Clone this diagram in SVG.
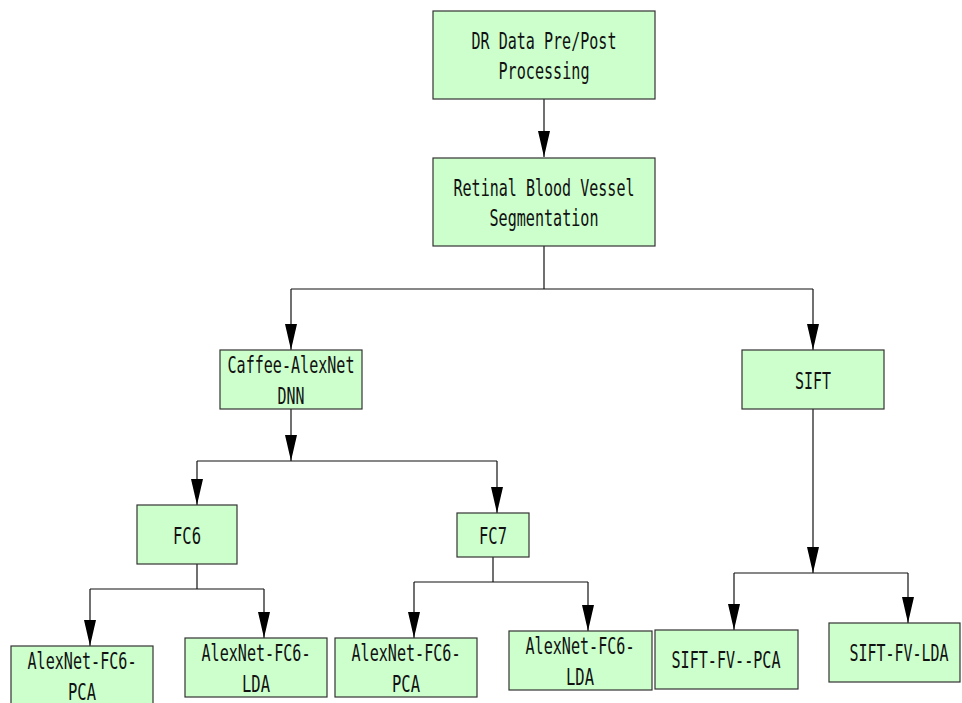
<svg xmlns="http://www.w3.org/2000/svg" width="962" height="703" viewBox="0 0 962 703">
<style>
.box{fill:#ccffcc;stroke:#333;stroke-width:1.2}
.t{font-family:"DejaVu Sans Mono","Liberation Mono",monospace;font-size:23px;fill:#111;text-anchor:middle}
.c{fill:none;stroke:#111;stroke-width:1.2}
</style>
<defs>
<marker id="a" viewBox="0 0 26 12" refX="26" refY="6" markerWidth="26" markerHeight="12" markerUnits="userSpaceOnUse" orient="auto">
<path d="M0,0 L26,6 L0,12 z" fill="#000"/>
</marker>
</defs>
<g id="connectors">
<path class="c" d="M544,99 V157" marker-end="url(#a)"/>
<path class="c" d="M544,246 V289"/>
<path class="c" d="M291,289 H813"/>
<path class="c" d="M291,289 V350" marker-end="url(#a)"/>
<path class="c" d="M813,289 V350" marker-end="url(#a)"/>
<path class="c" d="M291,409 V461" marker-end="url(#a)"/>
<path class="c" d="M197,461 H497"/>
<path class="c" d="M197,461 V505" marker-end="url(#a)"/>
<path class="c" d="M497,461 V513" marker-end="url(#a)"/>
<path class="c" d="M197,564 V589"/>
<path class="c" d="M90,589 H264"/>
<path class="c" d="M90,589 V646" marker-end="url(#a)"/>
<path class="c" d="M264,589 V638" marker-end="url(#a)"/>
<path class="c" d="M493,557 V582"/>
<path class="c" d="M414,582 H588"/>
<path class="c" d="M414,582 V638" marker-end="url(#a)"/>
<path class="c" d="M588,582 V631" marker-end="url(#a)"/>
<path class="c" d="M813,409 V573" marker-end="url(#a)"/>
<path class="c" d="M734,573 H908"/>
<path class="c" d="M734,573 V630" marker-end="url(#a)"/>
<path class="c" d="M908,573 V623" marker-end="url(#a)"/>
</g>
<g id="n1">
<rect class="box" x="433" y="11" width="222" height="88"/>
<text class="t" x="544" y="49" textLength="145" lengthAdjust="spacingAndGlyphs">DR Data Pre/Post</text>
<text class="t" x="544" y="79" textLength="91" lengthAdjust="spacingAndGlyphs">Processing</text>
</g>
<g id="n2">
<rect class="box" x="433" y="158" width="222" height="88"/>
<text class="t" x="544" y="196" textLength="181" lengthAdjust="spacingAndGlyphs">Retinal Blood Vessel</text>
<text class="t" x="544" y="226" textLength="109" lengthAdjust="spacingAndGlyphs">Segmentation</text>
</g>
<g id="n3">
<rect class="box" x="220" y="350" width="142" height="59"/>
<text class="t" x="291" y="373" textLength="127" lengthAdjust="spacingAndGlyphs">Caffee-AlexNet</text>
<text class="t" x="291" y="404" textLength="27" lengthAdjust="spacingAndGlyphs">DNN</text>
</g>
<g id="n4">
<rect class="box" x="742" y="350" width="142" height="59"/>
<text class="t" x="813" y="389" textLength="36" lengthAdjust="spacingAndGlyphs">SIFT</text>
</g>
<g id="n5">
<rect class="box" x="137" y="505" width="100" height="59"/>
<text class="t" x="187" y="544" textLength="28" lengthAdjust="spacingAndGlyphs">FC6</text>
</g>
<g id="n6">
<rect class="box" x="457" y="513" width="72" height="44"/>
<text class="t" x="493" y="544" textLength="28" lengthAdjust="spacingAndGlyphs">FC7</text>
</g>
<g id="n7">
<rect class="box" x="11" y="646" width="142" height="62"/>
<text class="t" x="82" y="669" textLength="109" lengthAdjust="spacingAndGlyphs">AlexNet-FC6-</text>
<text class="t" x="82" y="700" textLength="28" lengthAdjust="spacingAndGlyphs">PCA</text>
</g>
<g id="n8">
<rect class="box" x="185" y="638" width="142" height="59"/>
<text class="t" x="256" y="661" textLength="109" lengthAdjust="spacingAndGlyphs">AlexNet-FC6-</text>
<text class="t" x="256" y="692" textLength="28" lengthAdjust="spacingAndGlyphs">LDA</text>
</g>
<g id="n9">
<rect class="box" x="335" y="638" width="142" height="59"/>
<text class="t" x="406" y="661" textLength="109" lengthAdjust="spacingAndGlyphs">AlexNet-FC6-</text>
<text class="t" x="406" y="692" textLength="28" lengthAdjust="spacingAndGlyphs">PCA</text>
</g>
<g id="n10">
<rect class="box" x="509" y="631" width="143" height="59"/>
<text class="t" x="580" y="654" textLength="109" lengthAdjust="spacingAndGlyphs">AlexNet-FC6-</text>
<text class="t" x="580" y="685" textLength="28" lengthAdjust="spacingAndGlyphs">LDA</text>
</g>
<g id="n11">
<rect class="box" x="655" y="630" width="143" height="59"/>
<text class="t" x="726" y="668" textLength="109" lengthAdjust="spacingAndGlyphs">SIFT-FV--PCA</text>
</g>
<g id="n12">
<rect class="box" x="829" y="623" width="131" height="59"/>
<text class="t" x="899" y="661" textLength="99" lengthAdjust="spacingAndGlyphs">SIFT-FV-LDA</text>
</g>
</svg>
